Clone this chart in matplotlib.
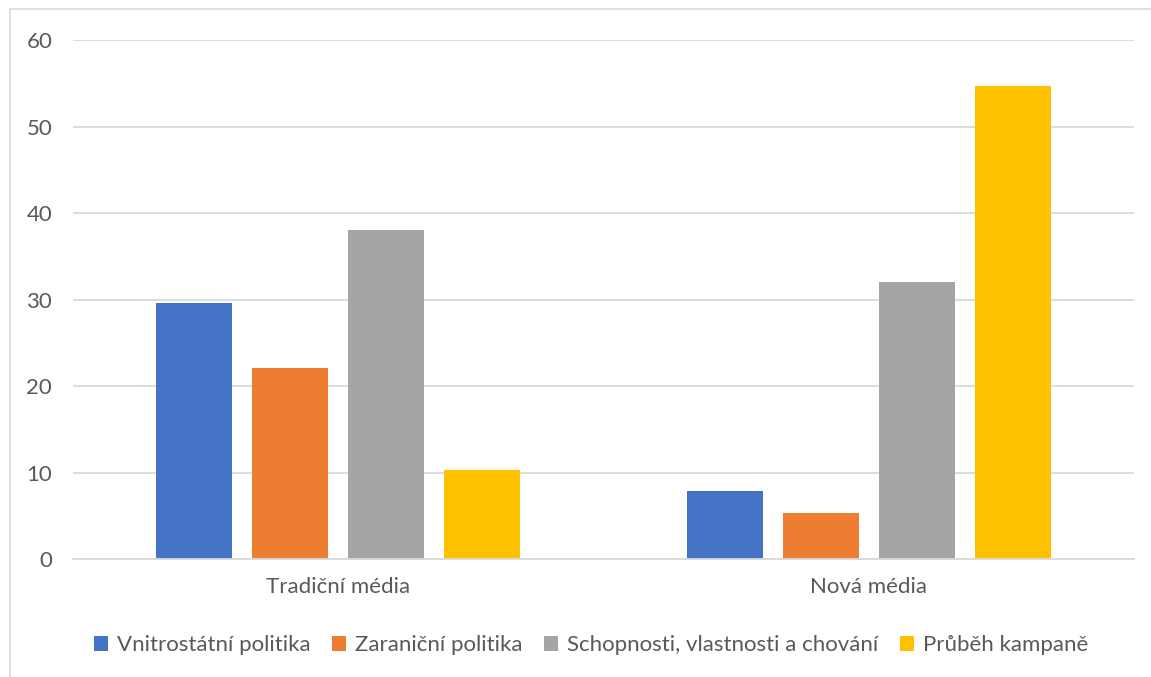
import matplotlib
matplotlib.use("Agg")
import matplotlib.pyplot as plt
from matplotlib.patches import Rectangle, Patch
import numpy as np

categories = ["Tradiční média", "Nová média"]
series_names = ["Vnitrostátní politika", "Zaraniční politika",
                "Schopnosti, vlastnosti a chování", "Průběh kampaně"]
vnitrostatni = [29.6, 7.9]
zahranicni = [22.1, 5.4]
schopnosti = [38.0, 32.0]
prubeh = [10.3, 54.7]
colors = ["#4472C4", "#ED7D31", "#A5A5A5", "#FFC000"]
y_ticks = [0, 10, 20, 30, 40, 50, 60]

W, H = 1151, 677
fig = plt.figure(figsize=(W / 100, H / 100), dpi=100)
plt.rcParams["font.family"] = ["Lato", "DejaVu Sans"]
text_color = "#595959"
grid_color = "#D9D9D9"
fs = 16

# outer chart frame
fig.patches.append(Rectangle((10 / W, -0.1), 1.2, 1 - 8.5 / H + 0.1,
                             transform=fig.transFigure, fill=False,
                             edgecolor=grid_color, linewidth=1.2))

ax = fig.add_axes([73 / W, 1 - 559.3 / H, (1134 - 73) / W, (559.3 - 40) / H])
x = np.arange(len(categories))
bar_w = 76 / 530.5
step = 96 / 530.5
for i, (vals, name) in enumerate(zip([vnitrostatni, zahranicni, schopnosti, prubeh], series_names)):
    ax.bar(x + (i - 1.5) * step, vals, width=bar_w, color=colors[i], label=name, zorder=3)

ax.set_xlim(-0.5, 1.5)
ax.set_ylim(0, 60)
ax.set_yticks(y_ticks)
ax.set_yticklabels([str(t) for t in y_ticks])
ax.set_xticks(x)
ax.set_xticklabels(categories)
ax.yaxis.grid(True, color=grid_color, linewidth=1.3, zorder=0)
ax.tick_params(axis="y", length=0, pad=15, labelsize=fs, labelcolor=text_color)
ax.tick_params(axis="x", length=0, pad=13, labelsize=fs, labelcolor=text_color)
for s in ["top", "right", "left"]:
    ax.spines[s].set_visible(False)
ax.spines["bottom"].set_color(grid_color)
ax.spines["bottom"].set_linewidth(1.3)
ax.spines["bottom"].set_zorder(4)

handles = [Patch(facecolor=c) for c in colors]
fig.legend(handles, series_names, loc="center", bbox_to_anchor=(591 / W, 1 - 645 / H),
           ncol=4, frameon=False, fontsize=fs, labelcolor=text_color,
           handlelength=0.65, handleheight=0.65, handletextpad=0.4, columnspacing=0.95)

fig.savefig("out.png", dpi=100)
